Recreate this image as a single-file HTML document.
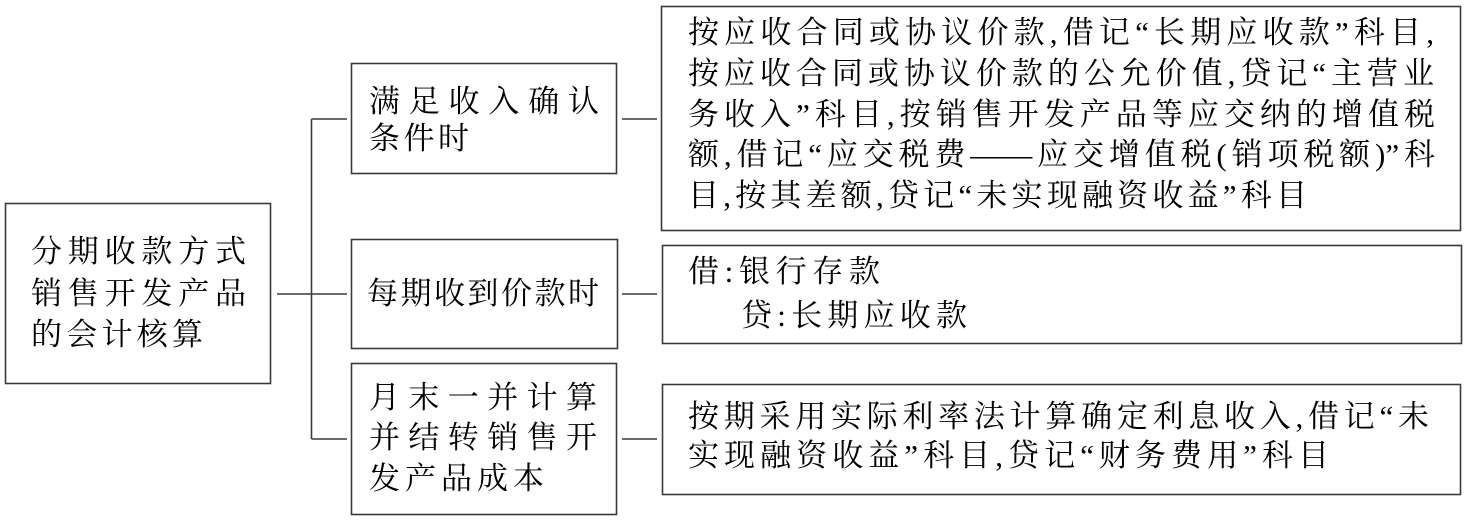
<!DOCTYPE html>
<html>
<head>
<meta charset="utf-8">
<style>
  html, body { margin:0; padding:0; background:#fff; }
  body { width:1469px; height:521px; position:relative; overflow:hidden; }
  svg { position:absolute; left:0; top:0; }
  .t {
    position:absolute;
    height:40px;
    line-height:40px;
    font-family:"Liberation Serif","Noto Serif CJK SC","Noto Sans CJK SC",serif;
    font-size:31px;
    color:#000;
    text-align:justify;
    text-align-last:justify;
    white-space:nowrap;
  }
</style>
</head>
<body>
<svg width="1469" height="521" viewBox="0 0 1469 521">
  <g fill="none" stroke="#3a3a3a" stroke-width="1.6">
    <!-- boxes -->
    <rect x="5.5" y="203.5" width="265" height="180"/>
    <rect x="351.5" y="63.5" width="265" height="110"/>
    <rect x="351.5" y="239.5" width="266" height="109"/>
    <rect x="351.5" y="363.5" width="265" height="151"/>
    <rect x="661.5" y="6.5" width="799" height="224"/>
    <rect x="662.5" y="245.5" width="799" height="98"/>
    <rect x="662.5" y="384.5" width="798" height="110"/>
    <!-- connectors -->
    <line x1="311.5" y1="119" x2="311.5" y2="439"/>
    <line x1="311.5" y1="119" x2="347" y2="119"/>
    <line x1="277" y1="294" x2="347" y2="294"/>
    <line x1="311.5" y1="439" x2="347" y2="439"/>
    <line x1="622" y1="119" x2="657" y2="119"/>
    <line x1="622" y1="294" x2="657" y2="294"/>
    <line x1="622" y1="439" x2="657" y2="439"/>
  </g>
</svg>

<!-- left box -->
<div class="t" style="left:31px;top:232px;width:215px;">分期收款方式</div>
<div class="t" style="left:31px;top:274px;width:215px;">销售开发产品</div>
<div class="t" style="left:31px;top:315px;width:172px;">的会计核算</div>

<!-- box 1 -->
<div class="t" style="left:369px;top:82px;width:230px;">满足收入确认</div>
<div class="t" style="left:369px;top:119px;width:100px;">条件时</div>

<!-- box 2 -->
<div class="t" style="left:367px;top:274px;width:232px;">每期收到价款时</div>

<!-- box 3 -->
<div class="t" style="left:369px;top:378px;width:228px;">月末一并计算</div>
<div class="t" style="left:369px;top:418px;width:228px;">并结转销售开</div>
<div class="t" style="left:369px;top:459px;width:175px;">发产品成本</div>

<!-- box A -->
<div class="t" style="left:688px;top:13px;width:746px;">按应收合同或协议价款,借记“长期应收款”科目,</div>
<div class="t" style="left:688px;top:54px;width:746px;">按应收合同或协议价款的公允价值,贷记“主营业</div>
<div class="t" style="left:688px;top:95px;width:747px;">务收入”科目,按销售开发产品等应交纳的增值税</div>
<div class="t" style="left:688px;top:135px;width:747px;">额,借记“应交税费——应交增值税(销项税额)”科</div>
<div class="t" style="left:688px;top:176px;width:619px;">目,按其差额,贷记“未实现融资收益”科目</div>

<!-- box B -->
<div class="t" style="left:688px;top:252px;width:192px;">借:银行存款</div>
<div class="t" style="left:741px;top:296px;width:226px;">贷:长期应收款</div>

<!-- box C -->
<div class="t" style="left:688px;top:397px;width:741px;">按期采用实际利率法计算确定利息收入,借记“未</div>
<div class="t" style="left:688px;top:436px;width:641px;">实现融资收益”科目,贷记“财务费用”科目</div>
</body>
</html>
